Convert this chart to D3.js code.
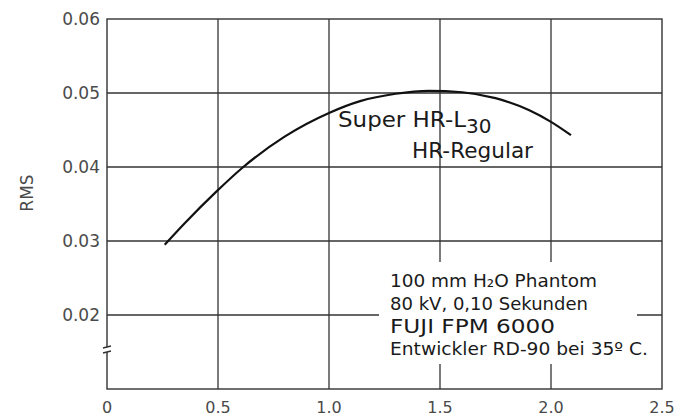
<!DOCTYPE html>
<html>
<head>
<meta charset="utf-8">
<script src="https://cdn.jsdelivr.net/npm/d3@7"></script>
<style>
  body { margin: 0; background: #fff; }
  text { font-family: "DejaVu Sans", sans-serif; }
</style>
</head>
<body>
<svg width="681" height="418"></svg>
<script>
// RMS curve
const rmsX = [0.26, 0.35, 0.49, 0.61, 0.8, 1.0, 1.14, 1.3, 1.45, 1.6, 1.75, 1.9, 2.0, 2.09];
const rmsY = [0.0295, 0.0324, 0.0366, 0.0399, 0.0441, 0.0473, 0.0489, 0.0499, 0.0503, 0.0501, 0.0493, 0.0477, 0.0461, 0.0443];

const xTicks = [0, 0.5, 1.0, 1.5, 2.0, 2.5];
const xTickLabels = ["0", "0.5", "1.0", "1.5", "2.0", "2.5"];
const yTicks = [0.02, 0.03, 0.04, 0.05, 0.06];
const yTickLabels = ["0.02", "0.03", "0.04", "0.05", "0.06"];

const noteLines = ["100 mm H₂O Phantom", "80 kV, 0,10 Sekunden", "FUJI FPM 6000", "Entwickler RD-90 bei 35º C."];

var svg = d3.select("svg");

var x = d3.scaleLinear().domain([0, 2.5]).range([107, 662]);
var y = d3.scaleLinear().domain([0.01, 0.06]).range([389, 19]);

var gridColor = "#333";

// vertical grid lines
svg.selectAll(".vgrid")
    .data(xTicks.slice(1, -1))
    .enter().append("line")
    .attr("x1", d => x(d)).attr("x2", d => x(d))
    .attr("y1", y(0.06)).attr("y2", y(0.01))
    .attr("stroke", gridColor).attr("stroke-width", 1.3);

// horizontal grid lines
svg.selectAll(".hgrid")
    .data(yTicks.slice(0, -1))
    .enter().append("line")
    .attr("x1", x(0)).attr("x2", x(2.5))
    .attr("y1", d => y(d)).attr("y2", d => y(d))
    .attr("stroke", gridColor).attr("stroke-width", 1.3);

// frame
svg.append("rect")
    .attr("x", x(0)).attr("y", y(0.06))
    .attr("width", x(2.5) - x(0)).attr("height", y(0.01) - y(0.06))
    .attr("fill", "none").attr("stroke", gridColor).attr("stroke-width", 1.4);

// axis break mark
svg.append("rect").attr("x", x(0) - 4).attr("y", 347).attr("width", 8).attr("height", 5).attr("fill", "#fff");
[347, 352].forEach(function(yy) {
    svg.append("line")
        .attr("x1", x(0) - 4).attr("x2", x(0) + 4)
        .attr("y1", yy + 1).attr("y2", yy - 1)
        .attr("stroke", "#333").attr("stroke-width", 1.3);
});

// tick labels
svg.selectAll(".ylab")
    .data(yTicks)
    .enter().append("text")
    .attr("x", 100).attr("y", d => y(d) + 6)
    .attr("text-anchor", "end")
    .attr("font-size", 17).attr("fill", "#4a4a4a")
    .text((d, i) => yTickLabels[i]);

svg.selectAll(".xlab")
    .data(xTicks)
    .enter().append("text")
    .attr("x", d => x(d)).attr("y", 413)
    .attr("text-anchor", "middle")
    .attr("font-size", 16).attr("fill", "#4a4a4a")
    .text((d, i) => xTickLabels[i]);

svg.append("text")
    .attr("transform", "translate(33,193) rotate(-90)")
    .attr("text-anchor", "middle")
    .attr("font-size", 17).attr("fill", "#4a4a4a")
    .text("RMS");

// curve
var line = d3.line()
    .x(d => x(d[0]))
    .y(d => y(d[1]))
    .curve(d3.curveMonotoneX);

svg.append("path")
    .datum(d3.zip(rmsX, rmsY))
    .attr("d", line)
    .attr("fill", "none")
    .attr("stroke", "#111")
    .attr("stroke-width", 2.2);

// curve labels
var lab = svg.append("text").attr("x", 338).attr("y", 127)
    .attr("font-size", 21).attr("fill", "#1a1a1a");
lab.append("tspan").attr("textLength", 128).attr("lengthAdjust", "spacingAndGlyphs").text("Super HR-L");
lab.append("tspan").attr("dy", 6).attr("font-size", 20).text("30");

svg.append("text").attr("x", 412).attr("y", 158)
    .attr("font-size", 21).attr("fill", "#1a1a1a")
    .attr("textLength", 121).attr("lengthAdjust", "spacingAndGlyphs")
    .text("HR-Regular");

// note box (covers grid)
svg.append("rect")
    .attr("x", 379).attr("y", 262)
    .attr("width", 258).attr("height", 102)
    .attr("fill", "#fff");
svg.append("rect")
    .attr("x", 379).attr("y", 336)
    .attr("width", 272).attr("height", 28)
    .attr("fill", "#fff");

var noteY = [287, 310, 333, 355];
var noteSize = [17.5, 17.5, 20, 17.5];
var noteLen = [207, 198, 165, 258];
svg.selectAll(".note")
    .data(noteLines)
    .enter().append("text")
    .attr("x", 390).attr("y", (d, i) => noteY[i])
    .attr("font-size", (d, i) => noteSize[i])
    .attr("textLength", (d, i) => noteLen[i])
    .attr("lengthAdjust", "spacingAndGlyphs")
    .attr("fill", "#1a1a1a")
    .text(d => d);
</script>
</body>
</html>
